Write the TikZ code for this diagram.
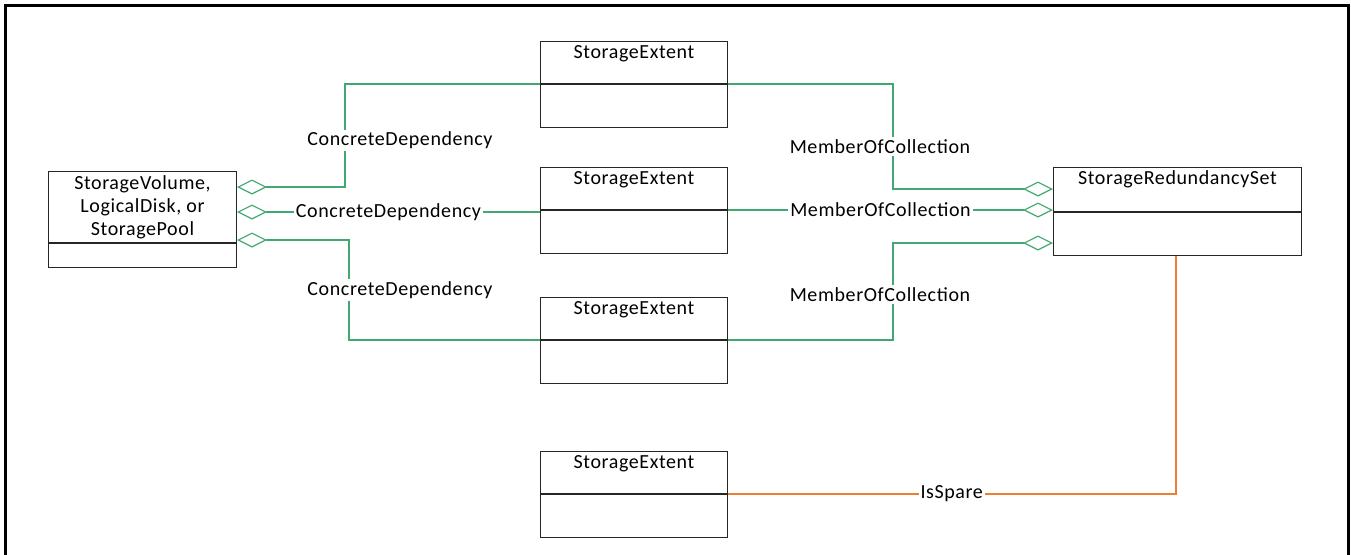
\documentclass[tikz,border=0pt]{standalone}
\usepackage{fontspec}
\setmainfont[LetterSpace=3]{Carlito}
\usetikzlibrary{positioning,arrows.meta}

\definecolor{aggrgreen}{RGB}{64,168,112}
\definecolor{sparecolor}{RGB}{237,125,49}

\tikzset{
  classbox/.style={draw=black!85, line width=0.5pt, inner sep=2pt,
    font=\fontsize{10}{11.5}\selectfont},
  clsname/.style={classbox, anchor=north west, text height=6.5pt, text depth=#1},
  clsname/.default=10.5pt,
  clsbody/.style={classbox, minimum height=#1},
  clsbody/.default=21.5pt,
  extent/.style={minimum width=93.5pt},
  aggr/.style={draw=aggrgreen, line width=0.6pt},
  aggl/.style={aggr, {Diamond[open,length=15pt,width=7.5pt]}-},
  aggrr/.style={aggr, -{Diamond[open,length=15pt,width=7.5pt]}},
  spare/.style={draw=sparecolor, line width=1pt},
  linklabel/.style={fill=white, inner sep=1pt, font=\fontsize{10}{11.5}\selectfont}
}

\begin{document}
\begin{tikzpicture}[x=0.5pt, y=-0.5pt]
    \useasboundingbox (0,0) rectangle (1351,554);
    % Cadre
    \draw[line width=1.5pt] (5,560) -- (5,5) -- (1348,5) -- (1348,560);

    % Classes
    \node[classbox, anchor=north west, minimum width=94pt, minimum height=35.5pt,
      inner ysep=1pt, align=center] (sv) at (48,171) {StorageVolume,\\LogicalDisk, or\\StoragePool};
    \node[clsbody=12pt, minimum width=94pt, below=0pt of sv] (svb) {};

    \node[clsname, extent] (se1) at (540,41) {StorageExtent};
    \node[clsbody, extent, below=0pt of se1] (se1b) {};
    \node[clsname, extent] (se2) at (540,167) {StorageExtent};
    \node[clsbody, extent, below=0pt of se2] (se2b) {};
    \node[clsname, extent] (se3) at (540,297) {StorageExtent};
    \node[clsbody, extent, below=0pt of se3] (se3b) {};
    \node[clsname, extent] (se4) at (540,451) {StorageExtent};
    \node[clsbody, extent, below=0pt of se4] (se4b) {};

    \node[clsname=11.5pt, minimum width=124pt] (srs) at (1053,167) {StorageRedundancySet};
    \node[clsbody, minimum width=124pt, below=0pt of srs] (srsb) {};

    % Points d'attache des losanges
    \coordinate (sv1) at ([yshift=-8pt]sv.north east);
    \coordinate (sv2) at ([yshift=-20.5pt]sv.north east);
    \coordinate (sv3) at ([yshift=-34.5pt]sv.north east);
    \coordinate (srs1) at ([yshift=-11pt]srs.north west);
    \coordinate (srs2) at (srs.south west);
    \coordinate (srs3) at ([yshift=-38pt]srs.north west);
    \coordinate (srs4) at ([xshift=-1pt]srsb.south);

    % ConcreteDependency
    \draw[aggl] (sv1) -| node[pos=0.75, xshift=27.5pt, yshift=-2.5pt, linklabel] {ConcreteDependency}
      ([xshift=-97.5pt]se1.south west) -- (se1.south west);
    \draw[aggl] (sv2) -- node[linklabel] {ConcreteDependency} (sv2 -| se2.south west);
    \draw[aggl] (sv3) -| node[pos=0.75, xshift=25.5pt, linklabel] {ConcreteDependency}
      ([xshift=-95.5pt]se3.south west) -- (se3.south west);

    % MemberOfCollection
    \draw[aggrr] (se1.south east) -| node[pos=0.75, xshift=-6.5pt, yshift=-5pt, linklabel] {MemberOfCollection}
      ([xshift=-80pt]srs1) -- (srs1);
    \draw[aggrr] (se2.south east) -- node[xshift=-5pt, linklabel] {MemberOfCollection} (se2.south east -| srs2);
    \draw[aggrr] (se3.south east) -| node[pos=0.75, xshift=-6.5pt, yshift=-1.5pt, linklabel] {MemberOfCollection}
      ([xshift=-80pt]srs3) -- (srs3);

    % IsSpare
    \draw[spare] (se4.south east) -| node[pos=0.25, linklabel] {IsSpare} (srs4);
\end{tikzpicture}
\end{document}
